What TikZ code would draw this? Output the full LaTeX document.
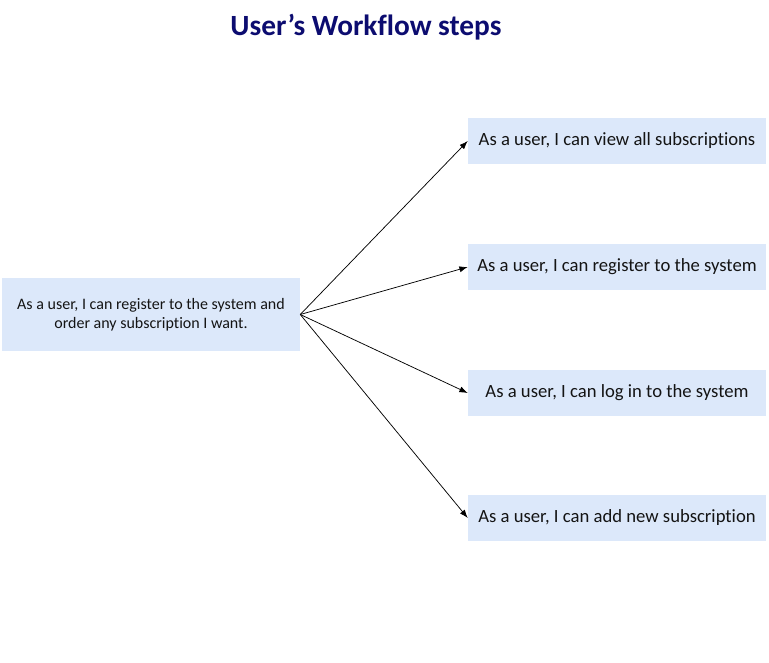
\documentclass[tikz,border=0pt]{standalone}
\usepackage{fontspec}
\setmainfont{Carlito}[Ligatures=NoCommon]
\usetikzlibrary{arrows.meta,positioning}
\definecolor{wfbox}{RGB}{220,232,250}
\definecolor{wftitle}{RGB}{12,12,112}
\definecolor{wfink}{RGB}{20,20,20}

\begin{document}
\begin{tikzpicture}[
  x=0.75pt, y=-0.75pt,
  font=\fontsize{14}{17}\selectfont,
  storybox/.style={fill=wfbox, inner sep=0pt, text=wfink, align=center, minimum width=223.5pt, minimum height=34.5pt},
  userstory/.style={fill=wfbox, inner sep=0pt, text=wfink, align=center, minimum width=223.5pt, minimum height=54.75pt, font=\fontsize{12}{14.25}\selectfont},
  link/.style={draw=black, line width=0.55pt, -{Latex[length=2.2mm,width=1.6mm]}}
]
\useasboundingbox (0,0) rectangle (769,663);

\node[text=wftitle, font=\bfseries\fontsize{22}{26}\selectfont] (title) at (366,27) {User’s Workflow steps};

\node[userstory] (story) at (151,314.5) {As a user, I can register to the system and\\order any subscription I want.};

\node[storybox] (viewsubs) at (617,141) {As a user, I can view all subscriptions};
\node[storybox] (register) at (617,267) {As a user, I can register to the system};
\node[storybox] (login) at (617,393) {As a user, I can log in to the system};
\node[storybox] (addsub) at (617,518) {As a user, I can add new subscription};

\draw[link] (story.east) -- (viewsubs.west);
\draw[link] (story.east) -- (register.west);
\draw[link] (story.east) -- (login.west);
\draw[link] (story.east) -- (addsub.west);
\end{tikzpicture}
\end{document}
